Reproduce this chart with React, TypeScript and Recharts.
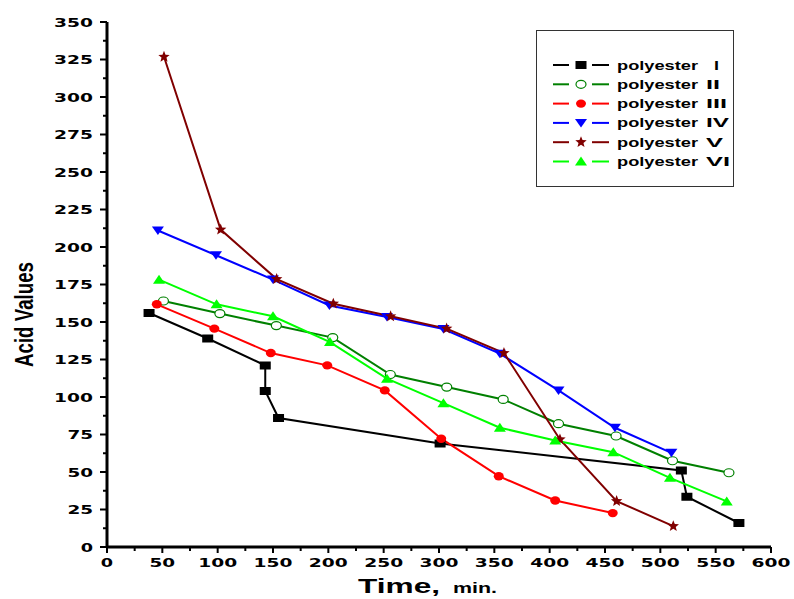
import React from 'react';
import { LineChart, Line, XAxis, YAxis, Legend } from 'recharts';

// ---- data (time in min, acid value) ----
const xI = [38, 91, 143, 143, 155, 301, 519, 524, 571];
const yI = [156, 139, 121, 104, 86, 69, 51, 33.5, 16];

const xII = [51, 102, 153, 204, 256, 307, 358, 408, 460, 511, 562];
const yII = [164, 155.6, 147.6, 139.6, 115, 106.6, 98.4, 82.2, 74, 57.5, 49.5];

const xIII = [45, 97, 148, 199, 251, 302, 354, 405, 457];
const yIII = [161.8, 145.6, 129.3, 121.1, 104.4, 72.2, 47.2, 31, 22.6];

const xIV = [46, 98.5, 150, 201, 253, 304, 355, 408, 459, 510];
const yIV = [211, 194.5, 178.3, 161, 153.3, 145.3, 128.9, 104.4, 79.5, 62.8];

const xV = [51.5, 102.7, 153.3, 204.5, 256.3, 306.9, 358.7, 409.3, 460.5, 511.7];
const yV = [326.8, 211.6, 178.6, 162.2, 153.8, 145.6, 129.3, 71.7, 30.6, 13.9];

const xVI = [47, 99, 150, 201.5, 253, 304, 355, 405, 457.5, 508.7, 560];
const yVI = [178.2, 161.8, 153.8, 136.6, 112.2, 95.9, 79.5, 71, 63.2, 46.1, 30.4];

const seriesNames = ['I', 'II', 'III', 'IV', 'V', 'VI'];
const seriesColors = ['#000000', '#008000', '#ff0000', '#0000ff', '#800000', '#00ff00'];
const seriesShapes = ['square', 'openCircle', 'circle', 'triangleDown', 'star', 'triangleUp'];

const xTicks = Array.from({ length: 25 }, (_, i) => i * 25);
const yTicks = Array.from({ length: 29 }, (_, i) => i * 12.5);

const toPts = (xs: number[], ys: number[]) => xs.map((x, i) => ({ x, y: ys[i] }));
const seriesData = [
  toPts(xI, yI),
  toPts(xII, yII),
  toPts(xIII, yIII),
  toPts(xIV, yIV),
  toPts(xV, yV),
  toPts(xVI, yVI),
];

const FONT = '"DejaVu Sans", "Liberation Sans", Arial, sans-serif';

function starPath(cx: number, cy: number, R: number, r: number) {
  let d = '';
  for (let i = 0; i < 10; i++) {
    const ang = -Math.PI / 2 + (i * Math.PI) / 5;
    const rad = i % 2 === 0 ? R : r;
    d += (i === 0 ? 'M' : 'L') + (cx + rad * Math.cos(ang)).toFixed(2) + ',' + (cy + rad * Math.sin(ang)).toFixed(2);
  }
  return d + 'Z';
}

function Marker({ shape, color, cx, cy }: { shape: string; color: string; cx: number; cy: number }) {
  if (cx == null || cy == null) return null;
  switch (shape) {
    case 'square':
      return <rect x={cx - 5.5} y={cy - 4} width={11} height={8} fill={color} />;
    case 'openCircle':
      return <ellipse cx={cx} cy={cy} rx={5} ry={4} fill="#fff" stroke={color} strokeWidth={1.2} />;
    case 'circle':
      return <ellipse cx={cx} cy={cy} rx={5} ry={4.2} fill={color} />;
    case 'triangleDown':
      return <path d={`M${cx - 6},${cy - 4}L${cx + 6},${cy - 4}L${cx},${cy + 4.5}Z`} fill={color} />;
    case 'triangleUp':
      return <path d={`M${cx - 6},${cy + 4}L${cx + 6},${cy + 4}L${cx},${cy - 5}Z`} fill={color} />;
    case 'star':
      return <path d={starPath(cx, cy, 6, 2.6)} fill={color} />;
    default:
      return null;
  }
}

const YTick = (props: any) => {
  const { x, y, payload } = props;
  const v = payload.value;
  const major = Math.abs(v % 25) < 1e-6;
  const label = String(v);
  return (
    <g>
      <line x1={x} x2={x - (major ? 7 : 4)} y1={y} y2={y} stroke="#000" strokeWidth={2} />
      {major && (
        <text
          x={x - 14}
          y={y + 4.7}
          textAnchor="end"
          fontFamily={FONT}
          fontWeight="bold"
          fontSize={13}
          fill="#000"
          textLength={label.length * 13.3 - 1}
          lengthAdjust="spacingAndGlyphs"
        >
          {label}
        </text>
      )}
    </g>
  );
};

const XTick = (props: any) => {
  const { x, y, payload } = props;
  const v = payload.value;
  const major = Math.abs(v % 50) < 1e-6;
  const label = String(v);
  return (
    <g>
      <line x1={x} x2={x} y1={y} y2={y + (major ? 6 : 4)} stroke="#000" strokeWidth={2} />
      {major && (
        <text
          x={x}
          y={y + 19.5}
          textAnchor="middle"
          fontFamily={FONT}
          fontWeight="bold"
          fontSize={13}
          fill="#000"
          textLength={label.length * 13.3 - 1}
          lengthAdjust="spacingAndGlyphs"
        >
          {label}
        </text>
      )}
    </g>
  );
};

const XLabel = (props: any) => {
  const vb = props.viewBox || { x: 107, y: 547, width: 664 };
  const cx = vb.x + vb.width / 2;
  const x0 = cx - 81;
  const by = vb.y + 46;
  return (
    <g>
      <text x={x0} y={by} fontFamily='"Liberation Sans", Arial, sans-serif' fontWeight="bold" fontSize={20} fill="#000"
        textLength={82} lengthAdjust="spacingAndGlyphs">Time,</text>
      <text x={x0 + 95} y={by} fontFamily='"Liberation Sans", Arial, sans-serif' fontWeight="bold" fontSize={14} fill="#000"
        textLength={44} lengthAdjust="spacingAndGlyphs">min.</text>
    </g>
  );
};

const YLabel = (props: any) => {
  const vb = props.viewBox || { x: 47, y: 22, width: 60, height: 525 };
  const bx = 33;
  const cy = vb.y + vb.height / 2 + 30;
  return (
    <text
      x={bx}
      y={cy}
      transform={`rotate(-90, ${bx}, ${cy})`}
      textAnchor="middle"
      fontFamily='"Liberation Sans Narrow", "Arial Narrow", "Liberation Sans", Arial, sans-serif'
      fontWeight="bold"
      fontSize={25}
      fill="#000"
      textLength={105}
      lengthAdjust="spacingAndGlyphs"
    >
      Acid Values
    </text>
  );
};

const numeralX = [714, 706, 706, 706, 706, 706];
const numeralW = [5, 14, 21, 23, 17, 24];

const LegendBox = () => {
  const left = 536;
  const top = 30;
  const w = 198;
  const h = 157;
  return (
    <svg width={w} height={h} style={{ display: 'block' }}>
      <rect x={0.5} y={0.5} width={w - 1} height={h - 1} fill="#fff" stroke="#333" strokeWidth={1} />
      {seriesNames.map((n, i) => {
        const cy = 65 - top + i * 19.3;
        const c = seriesColors[i];
        return (
          <g key={n}>
            <line x1={553 - left} x2={569 - left} y1={cy} y2={cy} stroke={c} strokeWidth={2} />
            <line x1={592 - left} x2={609 - left} y1={cy} y2={cy} stroke={c} strokeWidth={2} />
            <Marker shape={seriesShapes[i]} color={c} cx={581 - left} cy={cy} />
            <text x={617 - left} y={cy + 4.5} fontFamily='"Liberation Sans", Arial, sans-serif' fontWeight="bold"
              fontSize={13} fill="#000" textLength={81} lengthAdjust="spacingAndGlyphs">polyester</text>
            <text x={numeralX[i] - left} y={cy + 4.5} fontFamily='"Liberation Sans", Arial, sans-serif' fontWeight="bold"
              fontSize={13} fill="#000" textLength={numeralW[i]} lengthAdjust="spacingAndGlyphs">{n}</text>
          </g>
        );
      })}
    </svg>
  );
};

export default function App() {
  return (
    <div style={{ position: 'absolute', left: 0, top: 0, width: 794, height: 599, background: '#fff' }}>
      <LineChart width={794} height={599} margin={{ top: 22, right: 23, bottom: 22, left: 47 }}>
        <XAxis
          xAxisId="main"
          dataKey="x"
          type="number"
          domain={[0, 600]}
          ticks={xTicks}
          interval={0}
          height={30}
          tickSize={0}
          tickMargin={0}
          tickLine={false}
          axisLine={{ stroke: '#000', strokeWidth: 3 }}
          tick={<XTick />}
          label={<XLabel />}
          allowDuplicatedCategory={false}
        />
        <XAxis
          xAxisId="top"
          orientation="top"
          dataKey="x"
          type="number"
          domain={[0, 600]}
          height={0}
          tick={false}
          tickLine={false}
          axisLine={{ stroke: '#000', strokeWidth: 3 }}
        />
        <YAxis
          yAxisId="main"
          type="number"
          domain={[0, 350]}
          ticks={yTicks}
          interval={0}
          width={60}
          tickSize={0}
          tickMargin={0}
          tickLine={false}
          axisLine={{ stroke: '#000', strokeWidth: 3 }}
          tick={<YTick />}
          label={<YLabel />}
        />
        <YAxis
          yAxisId="right"
          orientation="right"
          type="number"
          domain={[0, 350]}
          width={0}
          tick={false}
          tickLine={false}
          axisLine={{ stroke: '#000', strokeWidth: 3 }}
        />
        <Legend
          layout="vertical"
          align="center"
          verticalAlign="middle"
          content={() => <LegendBox />}
          wrapperStyle={{ position: 'absolute', left: 536, top: 30, width: 198, height: 157 }}
        />
        {seriesData.map((d, i) => (
          <Line
            key={seriesNames[i]}
            name={`polyester ${seriesNames[i]}`}
            data={d}
            dataKey="y"
            xAxisId="main"
            yAxisId="main"
            type="linear"
            stroke={seriesColors[i]}
            strokeWidth={2}
            isAnimationActive={false}
            dot={(p: any) => (
              <Marker key={`${seriesNames[i]}-${p.index}`} shape={seriesShapes[i]} color={seriesColors[i]} cx={p.cx} cy={p.cy} />
            )}
            activeDot={false}
          />
        ))}
      </LineChart>
    </div>
  );
}
